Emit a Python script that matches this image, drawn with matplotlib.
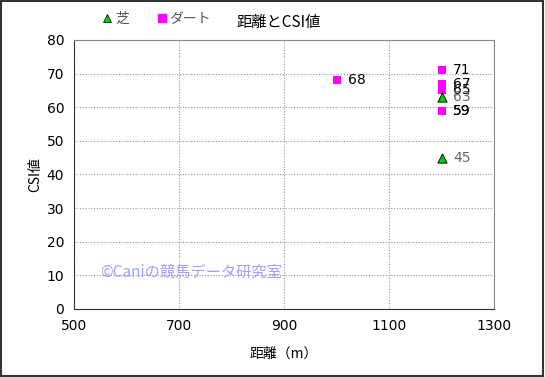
import matplotlib
matplotlib.use("Agg")
import matplotlib.pyplot as plt
from matplotlib.lines import Line2D

plt.rcParams['font.family'] = ['Noto Sans CJK JP', 'DejaVu Sans']

# 芝 (turf)
turf_dist = [1200, 1200]
turf_csi = [63, 45]
# ダート (dirt)
dirt_dist = [1000, 1200, 1200, 1200, 1200, 1200]
dirt_csi = [68, 71, 67, 65, 59, 59]

xticks = [500, 700, 900, 1100, 1300]
yticks = [0, 10, 20, 30, 40, 50, 60, 70, 80]

fig = plt.figure(figsize=(5.45, 3.77), dpi=100)
ax = fig.add_axes([74 / 545, 68 / 377, 420 / 545, 269 / 377])

ax.scatter(dirt_dist, dirt_csi, marker='s', s=40, color='#ff00ff', zorder=3,
           linewidths=0)
ax.scatter(turf_dist, turf_csi, marker='^', s=45, color='#00cc00',
           edgecolors='black', linewidths=0.6, zorder=4)

for x, y in zip(dirt_dist, dirt_csi):
    ax.text(x + 22, y, str(y), fontsize=10, color='black', va='center', ha='left',
            family=['DejaVu Sans'])
for x, y in zip(turf_dist, turf_csi):
    ax.text(x + 22, y, str(y), fontsize=10, color='#666666', va='center', ha='left',
            family=['DejaVu Sans'])

ax.set_xlim(500, 1300)
ax.set_ylim(0, 80)
ax.set_xticks(xticks)
ax.set_yticks(yticks)
ax.tick_params(labelsize=10, length=0, pad=7)
for lab in ax.get_xticklabels() + ax.get_yticklabels():
    lab.set_family(['DejaVu Sans'])
ax.grid(True, linestyle=(0, (1, 1.5)), color='#999999', linewidth=0.8)
ax.set_axisbelow(True)
for s in ['top', 'right']:
    ax.spines[s].set_color('#888888')
for s in ['left', 'bottom']:
    ax.spines[s].set_color('#333333')

ax.set_xlabel('距離（m）', fontsize=10, labelpad=10)
ax.set_ylabel('CSI値', fontsize=10, labelpad=3)

fig.text(236 / 545, 1 - 23 / 377, '距離とCSI値', fontsize=11, ha='left', va='center')

handles = [Line2D([], [], marker='^', color='#00cc00', markeredgecolor='black',
                  markeredgewidth=0.5, linestyle='none', markersize=6),
           Line2D([], [], marker='s', color='#ff00ff', linestyle='none', markersize=5.5)]
fig.legend(handles, ['芝', 'ダート'], loc='center left', ncol=2, frameon=False,
           bbox_to_anchor=(97 / 545, 1 - 19 / 377), fontsize=10,
           handletextpad=-0.2, handlelength=1.5, columnspacing=1.6,
           labelcolor='#555555', borderaxespad=0, borderpad=0)

fig.text(100 / 545, 1 - 272 / 377, '©Caniの競馬データ研究室', fontsize=11,
         color='#8888ff', alpha=0.8, ha='left', va='center')

fig.patches.append(plt.Rectangle((0.002, 0.003), 0.995, 0.994, transform=fig.transFigure,
                                 fill=False, edgecolor='#333333', linewidth=1.5))

fig.savefig('out.png', dpi=100)
